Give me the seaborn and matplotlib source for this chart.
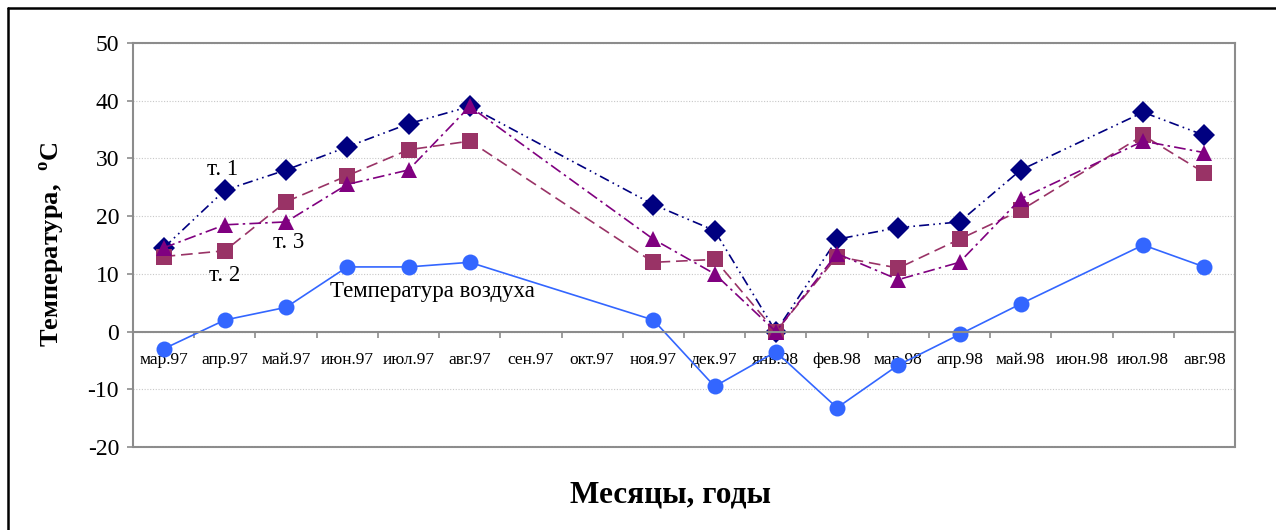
import numpy as np
import pandas as pd
import matplotlib
matplotlib.use("Agg")
import matplotlib.pyplot as plt
from matplotlib.lines import Line2D
import seaborn as sns

# ---- data -------------------------------------------------------------
months = ["мар.97", "апр.97", "май.97", "июн.97", "июл.97", "авг.97",
          "сен.97", "окт.97", "ноя.97", "дек.97", "янв.98", "фев.98",
          "мар.98", "апр.98", "май.98", "июн.98", "июл.98", "авг.98"]
nan = np.nan
t1 = [14.5, 24.5, 28, 32, 36, 39, nan, nan, 22, 17.5, 0, 16, 18, 19, 28, nan, 38, 34]
t2 = [13, 14, 22.5, 27, 31.5, 33, nan, nan, 12, 12.5, 0, 13, 11, 16, 21, nan, 34, 27.5]
t3 = [14.5, 18.5, 19, 25.5, 28, 39, nan, nan, 16, 10, 0, 13.5, 9, 12, 23, nan, 33, 31]
air = [-3, 2, 4.2, 11.2, 11.2, 12, nan, nan, 2, -9.5, -3.5, -13.2, -5.8, -0.5, 4.8, nan, 15, 11.2]

series_names = ["Температура воздуха", "т. 1", "т. 2", "т. 3"]
y_ticks = [-20, -10, 0, 10, 20, 30, 40, 50]

# long table; months without measurements are dropped so lines bridge them
pos = np.arange(len(months))
frames = []
for name, vals in zip(series_names, [air, t1, t2, t3]):
    frames.append(pd.DataFrame({"pos": pos, "temp": vals, "series": name}))
df = pd.concat(frames, ignore_index=True).dropna()

# ---- style ------------------------------------------------------------
sns.set_style("white")
plt.rcParams["font.family"] = ["Liberation Serif", "DejaVu Serif"]
plt.rcParams["mathtext.fontset"] = "custom"
plt.rcParams["mathtext.rm"] = "Liberation Serif:bold"
plt.rcParams["mathtext.bf"] = "Liberation Serif:bold"
plt.rcParams["axes.unicode_minus"] = False
plt.rcParams["text.color"] = "black"
plt.rcParams["xtick.labelcolor"] = "black"
plt.rcParams["ytick.labelcolor"] = "black"

palette = {"Температура воздуха": "#3366ff", "т. 1": "#000080",
           "т. 2": "#993366", "т. 3": "#800080"}
markers = {"Температура воздуха": "o", "т. 1": "D", "т. 2": "s", "т. 3": "^"}
dashes = {"Температура воздуха": "", "т. 1": (6, 2.5, 1, 2.5, 1, 2.5),
          "т. 2": (7, 3.5), "т. 3": (7, 2.5, 1.5, 2.5)}

W, H = 1276, 530
fig = plt.figure(figsize=(W / 100, H / 100), dpi=100)
ax = fig.add_axes([133 / W, 1 - 447 / H, (1235 - 133) / W, (447 - 43) / H])

sns.lineplot(data=df, x="pos", y="temp", hue="series", style="series",
             hue_order=series_names, style_order=series_names,
             palette=palette, markers=markers, dashes=dashes,
             markersize=11.5, markeredgewidth=0, linewidth=1.2,
             legend=False, ax=ax)

ax.set_xlim(-0.5, len(months) - 0.5)
ax.set_ylim(-20, 50)

# frame
frame_c = "#8c8c8c"
for side in ["left", "right", "top", "bottom"]:
    ax.spines[side].set_visible(True)
    ax.spines[side].set_color(frame_c)
    ax.spines[side].set_linewidth(1.5)
ax.spines["bottom"].set_position(("data", 0))
ax.axhline(-20, color=frame_c, lw=1.5, clip_on=False, zorder=0.5)

# y axis
ax.set_yticks(y_ticks)
ax.tick_params(axis="y", which="major", direction="out", length=4,
               width=1.2, color=frame_c, pad=6, labelsize=17, left=True)
ax.yaxis.grid(True, linestyle=(0, (1, 1.5)), color="#c8c8c8", lw=0.8)
ax.xaxis.grid(False)

# x axis: labels at month centres, tick marks between months
ax.set_xticks(pos)
ax.set_xticklabels(months)
ax.set_xticks(pos[:-1] + 0.5, minor=True)
ax.tick_params(axis="x", which="major", length=0, pad=15, labelsize=12.5)
ax.tick_params(axis="x", which="minor", direction="out", length=4,
               width=1.2, color=frame_c, bottom=True)

ax.set_xlabel("")
ax.set_ylabel("")

# axis titles
fig.text(52 / W, 1 - 245 / H, r"Температура,  $^{\mathrm{o}}$C", rotation=90,
         ha="center", va="center", fontsize=19, fontweight="bold")
fig.text(670 / W, 1 - 495 / H, "Месяцы, годы", ha="center", va="center",
         fontsize=22.5, fontweight="bold")

# series labels
ax.text(0.96, 28, "т. 1", ha="center", va="center", fontsize=16.5)
ax.text(0.99, 9.8, "т. 2", ha="center", va="center", fontsize=16.5)
ax.text(2.04, 15.5, "т. 3", ha="center", va="center", fontsize=16.5)
ax.text(4.39, 6.9, "Температура воздуха", ha="center", va="center", fontsize=16.5)

# outer border
fig.add_artist(Line2D([7.5 / W, 1], [1 - 8 / H, 1 - 8 / H], color="black", lw=1.8))
fig.add_artist(Line2D([7.5 / W, 7.5 / W], [0, 1 - 8 / H], color="black", lw=1.8))

fig.savefig("out.png", dpi=100)
